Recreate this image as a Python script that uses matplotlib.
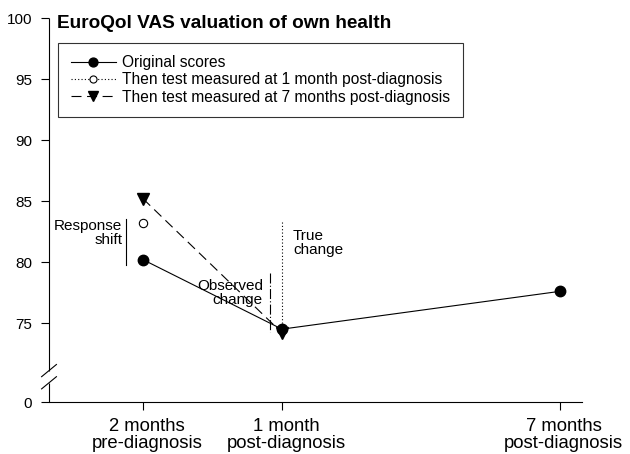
import matplotlib
matplotlib.use("Agg")
import matplotlib.pyplot as plt
from matplotlib.transforms import ScaledTranslation

plt.rcParams['font.family'] = ['Liberation Sans', 'DejaVu Sans']

# Data
months = [-2, 1, 7]
tick_labels = ["2 months\npre-diagnosis", "1 month\npost-diagnosis", "7 months\npost-diagnosis"]
original_scores = [80.2, 74.5, 77.6]
then_test_1m_x = [-2]
then_test_1m = [83.2]
then_test_7m_x = [-2, 1]
then_test_7m = [85.2, 74.2]

# broken axis: the value 0 is drawn at this position
ZERO_POS = 68.5
ytick_vals = [0, 75, 80, 85, 90, 95, 100]
ytick_pos = [ZERO_POS if v == 0 else v for v in ytick_vals]

XMIN, XMAX = -4.03, 7.48

fig = plt.figure(figsize=(6.3, 4.54), dpi=100)
ax = fig.add_axes([0.0778, 0.1139, 0.846, 0.8458])

ax.plot(then_test_7m_x, then_test_7m, linestyle=(0, (9, 5)), color='black', lw=0.8,
        marker='v', markersize=8.5, markerfacecolor='black', markeredgecolor='black',
        label='Then test measured at 7 months post-diagnosis', zorder=3)
ax.plot(then_test_1m_x, then_test_1m, linestyle=(0, (1, 2)), color='black', lw=0.8,
        marker='o', markersize=6, markerfacecolor='white', markeredgecolor='black',
        markeredgewidth=0.8, label='Then test measured at 1 month post-diagnosis', zorder=3)
ax.plot(months, original_scores, linestyle='-', color='black', lw=0.8,
        marker='o', markersize=7.5, markerfacecolor='black', markeredgecolor='black',
        label='Original scores', zorder=4)

# annotation lines
ax.plot([-2.37, -2.37], [79.8, 83.5], color='black', lw=0.8)
ax.plot([0.74, 0.74], [79.1, 74.3], color='black', lw=0.8, linestyle=(0, (9, 2, 1, 2)))
ax.plot([1.0, 1.0], [83.3, 74.5], color='black', lw=0.8, linestyle=(0, (1, 2)))

ann_fs = 11
ax.text(-2.45, 82.4, "Response\nshift", ha='right', va='center', fontsize=ann_fs,
        multialignment='right', linespacing=1.0)
ax.text(0.59, 77.45, "Observed\nchange", ha='right', va='center', fontsize=ann_fs,
        multialignment='right', linespacing=1.0)
ax.text(1.24, 81.55, "True\nchange", ha='left', va='center', fontsize=ann_fs,
        multialignment='left', linespacing=1.0)

ax.set_xlim(XMIN, XMAX)
ax.set_ylim(ZERO_POS, 100)
ax.set_xticks(months)
ax.set_xticklabels(tick_labels, fontsize=13.3, linespacing=1.0)
ax.set_yticks(ytick_pos)
ax.set_yticklabels([str(v) for v in ytick_vals], fontsize=11)
ax.tick_params(direction='out', length=6, width=0.8, colors='black')
ax.tick_params(axis='y', pad=6)
ax.tick_params(axis='x', pad=5)
shift = ScaledTranslation(4 / 100, 0, fig.dpi_scale_trans)
for lab in ax.get_xticklabels():
    lab.set_transform(lab.get_transform() + shift)

for s in ['top', 'right', 'left']:
    ax.spines[s].set_visible(False)
ax.spines['bottom'].set_linewidth(0.8)

# left spine with break
y_lo, y_hi = 70.1, 71.1
ax.plot([XMIN, XMIN], [ZERO_POS, y_lo], color='black', lw=0.8, clip_on=False, solid_capstyle='butt')
ax.plot([XMIN, XMIN], [y_hi, 100], color='black', lw=0.8, clip_on=False, solid_capstyle='butt')
for yb in (y_lo, y_hi):
    ax.plot([XMIN - 0.16, XMIN + 0.16], [yb - 0.5, yb + 0.5], color='black', lw=0.8, clip_on=False)

# title
ax.text(-3.85, 99.18, "EuroQol VAS valuation of own health", fontsize=13.7, fontweight='bold',
        ha='left', va='baseline')

handles, labels = ax.get_legend_handles_labels()
order = [2, 1, 0]
leg = ax.legend([handles[i] for i in order], [labels[i] for i in order],
                loc='upper left', bbox_to_anchor=(0.0174, 0.9365), borderaxespad=0,
                fontsize=11.2, frameon=True, fancybox=False, edgecolor='black',
                handlelength=2.9, handletextpad=0.4, borderpad=0.8, labelspacing=0.15,
                markerscale=0.85)
leg.get_frame().set_linewidth(0.8)

fig.savefig("out.png", dpi=100)
